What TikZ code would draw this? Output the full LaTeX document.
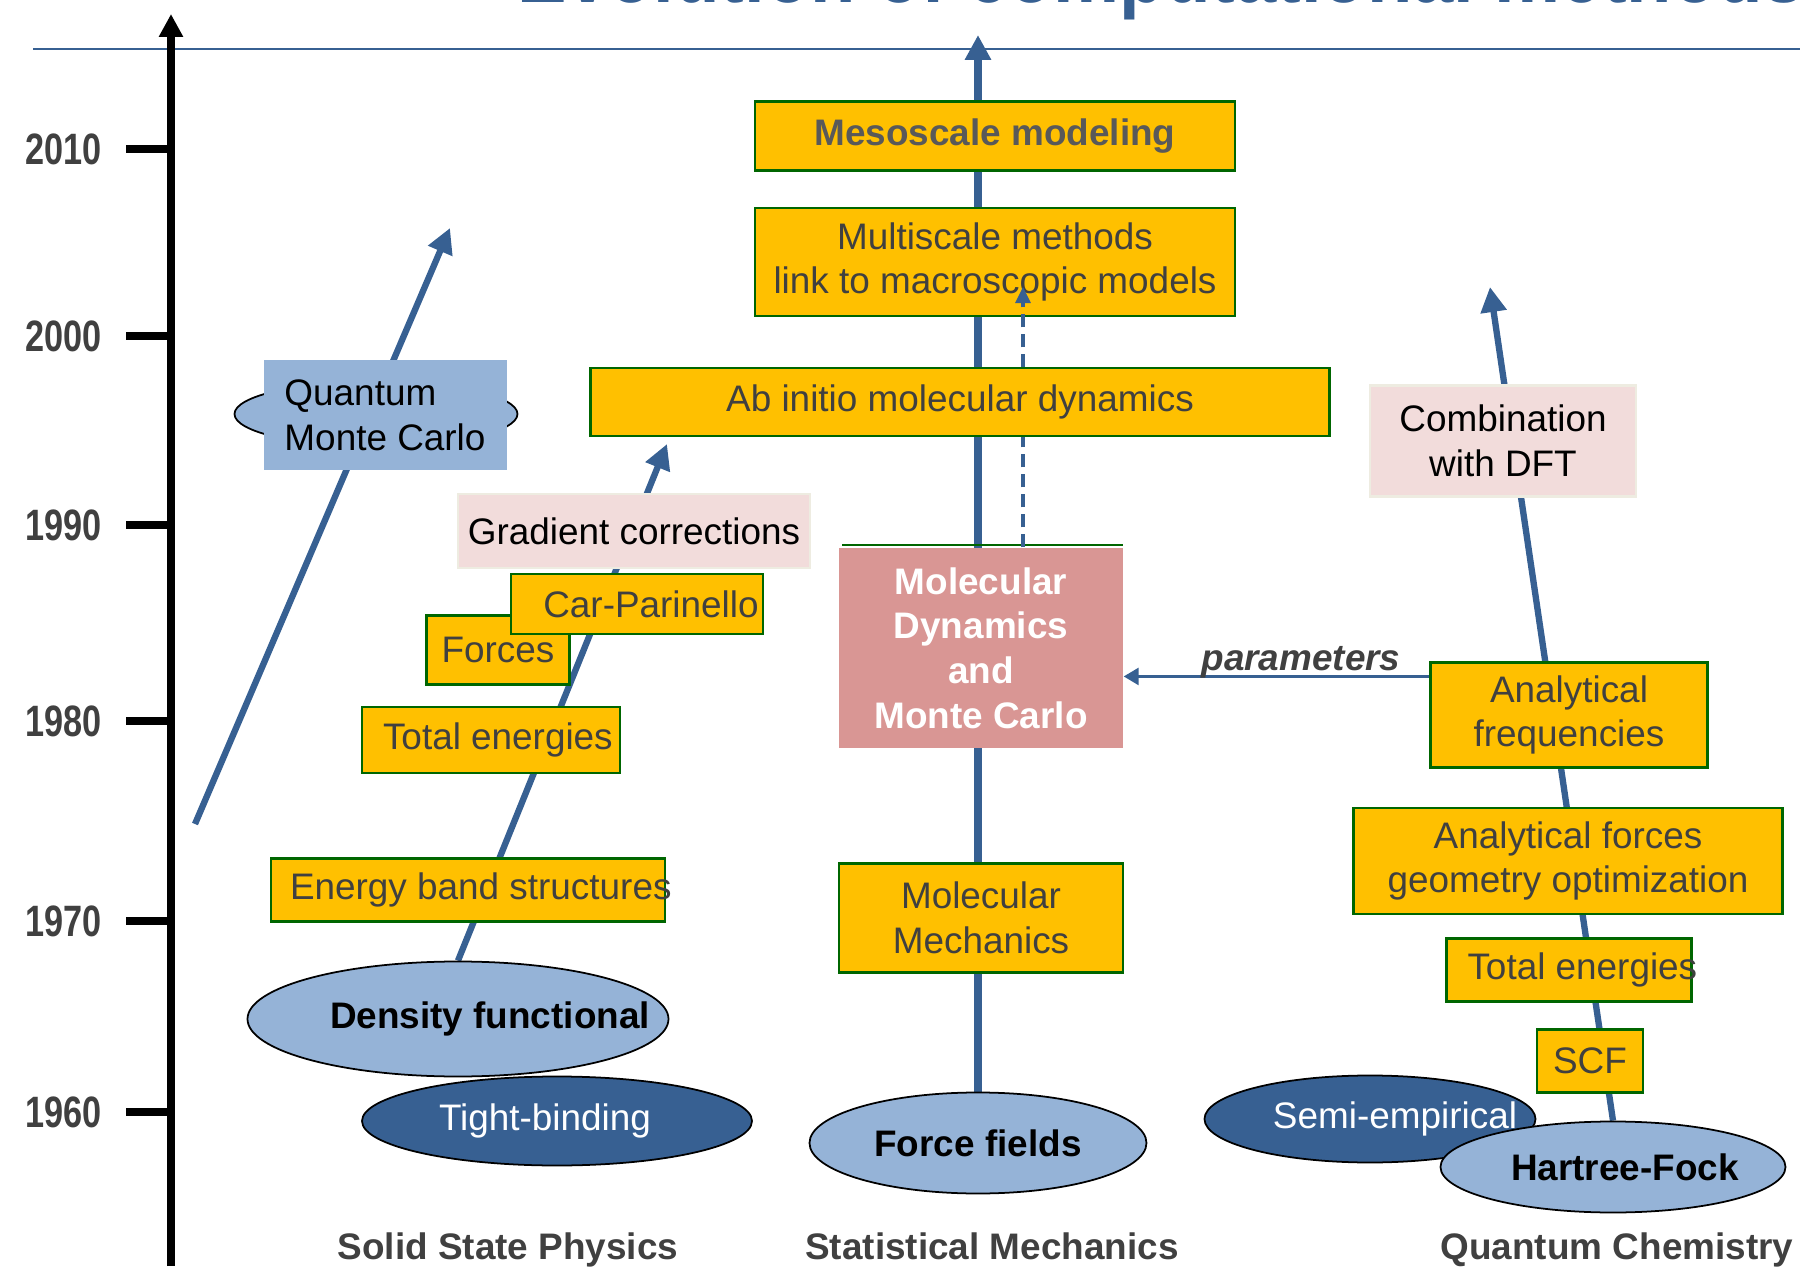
\documentclass[tikz,border=0pt]{standalone}
\usepackage{fontspec}
\setmainfont{Liberation Sans}
\usepackage{xcolor}
\usepackage{tikz}
\usetikzlibrary{shapes,arrows,arrows.meta,positioning,calc,backgrounds}

\definecolor{pptblue}{HTML}{376092}
\definecolor{lightblue}{HTML}{95B3D7}
\definecolor{gold}{HTML}{FFC000}
\definecolor{boxgreen}{HTML}{006600}
\definecolor{blush}{HTML}{F2DCDB}
\definecolor{blushedge}{HTML}{EEECE1}
\definecolor{rose}{HTML}{D99694}
\definecolor{textgray}{HTML}{404040}
\definecolor{softgray}{HTML}{595959}

\newcommand{\boxfont}{\fontsize{10.5}{12.7}\selectfont}
\newcommand{\yearfont}{\fontsize{12.5}{15}\selectfont\bfseries}

\begin{document}
\begin{tikzpicture}[
  goldbox/.style={rectangle, draw=boxgreen, line width=0.6pt, fill=gold, text=textgray, font=\boxfont, align=center, inner sep=0pt},
  blushbox/.style={rectangle, draw=blushedge, line width=0.6pt, fill=blush, text=black, font=\boxfont, align=center, inner sep=0pt},
  paleoval/.style={ellipse, draw=black, line width=0.5pt, fill=lightblue, text=black, font=\boxfont\bfseries, inner sep=0pt},
  darkoval/.style={ellipse, draw=black, line width=0.5pt, fill=pptblue, text=white, font=\boxfont, inner sep=0pt},
  trend/.style={pptblue, line width=1.8pt, -{Triangle[length=2.5mm,width=2.5mm]}},
  year/.style={anchor=east, text=textgray, font=\yearfont, inner sep=0pt},
  field/.style={anchor=base, text=textgray, font=\boxfont\bfseries, inner sep=0pt}
]
\useasboundingbox (0,0) rectangle (18,12.66);

% Title (runs off the top)
\node[anchor=base west, inner sep=0pt, text=pptblue, font=\fontsize{24}{28}\selectfont\bfseries, xscale=0.88] (title) at (5.17,12.63) {Evolution of computational methods};
\draw[pptblue, line width=0.8pt] (0.33,12.17) -- (18,12.17);

% Time axis
\draw[line width=2.2pt, -{Triangle[length=2.3mm,width=2.3mm]}] (1.71,0) -- (1.71,12.52);
\foreach \yr/\y in {2010/11.17, 2000/9.30, 1990/7.41, 1980/5.45, 1970/3.45, 1960/1.54} {
  \draw[line width=2.3pt] (1.26,\y) -- (1.71,\y);
  \node[year] (y\yr) at (1.02,\y) {\scalebox{0.78}[1]{\yr}};
}

% Statistical mechanics
\node[goldbox, text=softgray, font=\boxfont\bfseries, minimum width=4.80cm, minimum height=0.69cm] (meso) at (9.95,11.30) {Mesoscale modeling};
\node[goldbox, minimum width=4.80cm, minimum height=1.08cm] (multi) at (9.95,10.04) {Multiscale methods\\link to macroscopic models};
\node[fill=rose, text=white, font=\boxfont\bfseries, align=center, minimum width=2.84cm, minimum height=2.00cm, inner sep=0pt] (md) at (9.81,6.18) {Molecular\\Dynamics\\and\\Monte Carlo};
\draw[boxgreen, line width=0.6pt] ($(md.north west)+(0.04,0.02)$) -- ($(md.north east)+(-0.01,0.02)$);
\coordinate (feedback) at (10.23,9.79);
\draw[pptblue, line width=0.9pt, dash pattern=on 1.3mm off 0.7mm, -{Triangle[length=1.6mm,width=1.5mm]}] (md.north -| feedback) -- (feedback);
\node[goldbox, minimum width=7.39cm, minimum height=0.68cm] (abinitio) at (9.60,8.64) {Ab initio molecular dynamics};
\node[goldbox, minimum width=2.84cm, minimum height=1.09cm] (mm) at (9.81,3.48) {Molecular\\Mechanics};
\node[paleoval, minimum width=3.37cm, minimum height=1.01cm] (ff) at (9.78,1.23) {\makebox[0pt]{Force fields}};
\node[field] (statmech) at (9.92,0.07) {Statistical Mechanics};

% Solid state physics
\draw[fill=lightblue, line width=0.5pt] (3.76,8.52) ellipse (1.415 and 0.325);
\node[fill=lightblue, font=\boxfont, align=left, minimum width=2.43cm, minimum height=1.10cm, inner sep=0pt] (qmc) at (3.85,8.51) {Quantum\\Monte Carlo};
\node[blushbox, minimum width=3.52cm, minimum height=0.74cm] (gradient) at (6.34,7.35) {Gradient corrections};
\node[goldbox, minimum width=1.43cm, minimum height=0.69cm] (forces) at (4.98,6.16) {Forces};
\node[goldbox, minimum width=2.52cm, minimum height=0.60cm] (carpar) at (6.37,6.62) {\hspace*{0.28cm}Car-Parinello};
\node[goldbox, minimum width=2.58cm, minimum height=0.66cm] (ssen) at (4.91,5.26) {\makebox[2.16cm][l]{Total energies}};
\node[goldbox, minimum width=3.94cm, minimum height=0.63cm] (band) at (4.68,3.76) {\makebox[3.56cm][l]{Energy band structures}};
\node[paleoval, minimum width=4.21cm, minimum height=1.15cm] (dft) at (4.58,2.47) {\makebox[0pt]{\hspace*{0.64cm}Density functional}};
\node[darkoval, minimum width=3.90cm, minimum height=0.89cm] (tb) at (5.57,1.45) {\makebox[0pt]{Tight-binding\hspace*{0.24cm}}};
\node[field] (ssp) at (5.08,0.07) {Solid State Physics};

% Quantum chemistry
\node[blushbox, minimum width=2.66cm, minimum height=1.11cm] (dftcomb) at (15.03,8.25) {Combination\\with DFT};
\node[goldbox, minimum width=2.77cm, minimum height=1.05cm] (freq) at (15.69,5.51) {Analytical\\frequencies};
\node[goldbox, minimum width=4.29cm, minimum height=1.06cm] (geom) at (15.68,4.05) {Analytical forces\\geometry optimization};
\node[goldbox, minimum width=2.45cm, minimum height=0.63cm] (qcen) at (15.69,2.96) {\makebox[2.03cm][l]{Total energies}};
\node[goldbox, minimum width=1.06cm, minimum height=0.63cm] (scf) at (15.90,2.05) {SCF};
\node[darkoval, minimum width=3.31cm, minimum height=0.87cm] (semi) at (13.70,1.47) {\makebox[0pt]{\hspace*{0.5cm}Semi-empirical}};
\node[paleoval, minimum width=3.45cm, minimum height=0.91cm] (hf) at (16.13,0.99) {\makebox[0pt]{\hspace*{0.24cm}Hartree-Fock}};
\node[field] (qchem) at (16.17,0.07) {Quantum Chemistry};

% Parameters passed to MD
\coordinate (parstart) at ($(freq.north west)+(0,-0.15)$);
\draw[pptblue, line width=0.8pt, -{Triangle[length=1.5mm,width=1.7mm]}] (parstart) -- (parstart -| md.east);
\node[anchor=base, inner sep=0pt, text=textgray, font=\boxfont\bfseries\itshape] (params) at (13.01,5.96) {parameters};

% Trend arrows behind the boxes
\coordinate (qmcstart) at (1.95,4.42);
\coordinate (qmctip) at (4.50,10.38);
\coordinate (dfttip) at (6.67,8.22);
\coordinate (mdtip) at (9.78,12.31);
\coordinate (qctip) at (14.90,9.79);
\begin{scope}[on background layer]
\draw[trend] (qmcstart) -- (qmctip);
\draw[trend] (dft.north) -- (dfttip);
\draw[trend, line width=2pt] (ff.north) -- (mdtip);
\draw[trend] (hf.north) -- (qctip);
\end{scope}
\end{tikzpicture}
\end{document}
